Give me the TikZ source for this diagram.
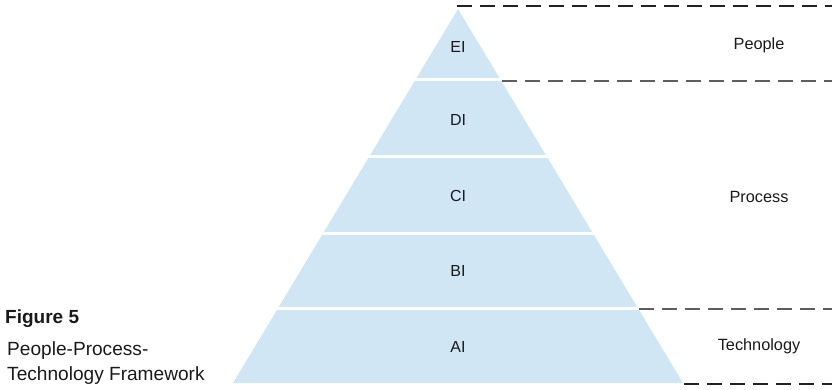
\documentclass[tikz,border=0pt]{standalone}
\usepackage{fontspec}
\setmainfont{Liberation Sans}
\definecolor{pyrblue}{HTML}{D1E6F5}
\definecolor{dashdark}{HTML}{222222}
\definecolor{dashgray}{HTML}{5E5E5E}
\definecolor{txt}{HTML}{1A1A1A}
\begin{document}
\begin{tikzpicture}[x=1pt,y=-1pt,
  lvl/.style={font=\fontsize{16}{18}\selectfont, inner sep=0pt, anchor=base, text=txt},
  side/.style={font=\fontsize{16.3}{18}\selectfont, inner sep=0pt, anchor=base, text=txt},
  captxt/.style={font=\fontsize{19.1}{22}\selectfont, inner sep=0pt, anchor=base west, text=txt},
  sep/.style={line width=1.4pt, dash pattern=on 15pt off 8pt},
]
\useasboundingbox (0,0) rectangle (832,390);
% pyramid
\coordinate (apex) at (458,9);
\coordinate (bl) at (233,383);
\coordinate (br) at (683,383);
\fill[pyrblue] (apex) -- (br) -- (bl) -- cycle;
\begin{scope}
\clip (apex) -- (br) -- (bl) -- cycle;
\foreach \yy in {80,157,233,308} \draw[white, line width=3pt] (200,\yy) -- (720,\yy);
\end{scope}
% levels
\node[lvl] (ei) at (458,52.7) {EI};
\node[lvl] (di) at (458,125.5) {DI};
\node[lvl] (ci) at (458,201.7) {CI};
\node[lvl] (bi) at (458,276.7) {BI};
\node[lvl] (ai) at (458,352.5) {AI};
% dashed separators
\coordinate (t1) at (457,6);   \coordinate (t2) at (832,6);
\coordinate (p1) at (502,81);  \coordinate (p2) at (832,81);
\coordinate (q1) at (639,309); \coordinate (q2) at (832,309);
\coordinate (r1) at (684,384); \coordinate (r2) at (832,384);
\draw[sep, dashdark] (t1) -- (t2);
\draw[sep, dashgray] (p1) -- (p2);
\draw[sep, dashgray] (q1) -- (q2);
\draw[sep, dashdark] (r1) -- (r2);
% side labels
\node[side] (people) at (759,49.3) {People};
\node[side] (process) at (759,202) {Process};
\node[side] (tech) at (759,350) {Technology};
% caption
\node[captxt, font=\bfseries\fontsize{19}{22}\selectfont] (fig) at (5,323.3) {Figure 5};
\node[captxt] (cap1) at (7,355) {People-Process-};
\node[captxt] (cap2) at (7,380.5) {Technology Framework};
\end{tikzpicture}
\end{document}
